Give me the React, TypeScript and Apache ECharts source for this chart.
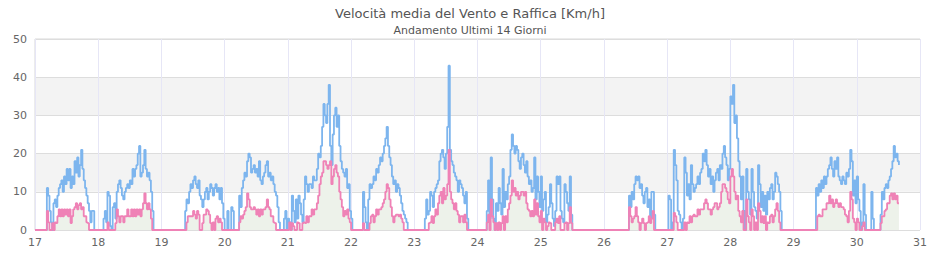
import React, { useEffect, useRef } from "react";
import * as echarts from "echarts";

const titleText = "Velocità media del Vento e Raffica [Km/h]";
const subtitleText = "Andamento Ultimi 14 Giorni";
const days = [17, 18, 19, 20, 21, 22, 23, 24, 25, 26, 27, 28, 29, 30];
const slotsPerDay = 48;

// Raffica (gusts), 30-minute samples per day
const g17 = [0,0,0,0,0,0,0,0,0,11,9,5,2,0,7,8,6,9,11,12,13,10,14,12,16,13,16,11,14,12,18,15,19,14,17,21,16,13,11,9,7,5,2,5,5,0,0,0];
const g18 = [0,0,0,0,3,5,2,10,9,1,0,6,7,3,10,12,13,11,9,8,10,11,12,11,13,12,16,14,16,17,20,22,14,15,17,21,16,14,15,13,10,5,0,0,0,0,0,0];
const g19 = [0,0,0,0,0,0,0,0,0,0,0,0,0,0,0,0,0,0,5,8,7,10,12,11,13,14,12,11,13,9,8,6,8,10,11,8,10,12,11,9,11,12,10,11,8,11,7,3];
const g20 = [0,0,5,0,0,6,5,0,0,0,0,9,6,11,13,15,14,18,20,19,15,16,17,15,16,14,18,13,12,14,15,17,18,14,15,13,14,12,10,9,6,2,0,0,0,3,5,0];
const g21 = [3,2,0,9,5,2,8,3,9,7,4,2,8,14,12,10,12,12,11,14,13,13,16,20,19,22,27,33,30,28,33,38,22,17,25,30,32,27,30,22,18,16,15,14,16,11,12,5];
const g22 = [3,0,0,0,0,0,0,0,0,10,6,2,0,8,12,11,12,14,13,16,15,17,19,18,20,22,24,27,22,19,17,14,12,13,10,12,11,9,7,5,4,3,2,0,0,0,0,0];
const g23 = [0,0,0,0,0,0,0,0,3,8,4,5,10,9,6,10,11,12,13,18,20,21,19,16,20,27,43,21,18,17,15,14,13,10,13,12,11,9,7,10,3,0,0,0,0,0,0,0];
const g24 = [0,0,0,0,0,0,0,5,13,3,19,8,3,0,7,5,11,7,4,16,6,10,8,12,14,21,25,22,20,22,21,18,16,19,20,17,15,18,14,12,13,10,11,19,8,14,10,6];
const g25 = [14,5,8,10,2,4,6,12,7,3,1,5,14,12,14,5,3,2,12,10,7,5,14,4,0,0,0,0,0,0,0,0,0,0,0,0,0,0,0,0,0,0,0,0,0,0,0,0];
const g26 = [0,0,0,0,0,0,0,0,0,0,0,0,0,0,0,0,0,0,0,9,6,10,8,12,14,13,14,11,12,9,7,10,11,6,8,3,10,10,4,0,0,0,0,0,0,0,0,0];
const g27 = [0,9,8,0,2,21,17,13,5,4,2,0,3,19,15,9,12,8,17,12,10,11,12,14,12,15,16,20,18,21,17,14,16,12,14,10,13,15,16,13,17,16,20,22,19,17,13,16];
const g28 = [35,33,38,28,30,24,18,14,8,14,5,0,16,10,8,4,16,10,6,5,3,17,12,6,10,5,9,4,10,8,11,12,8,10,15,14,12,10,5,0,0,0,0,0,0,0,0,0];
const g29 = [0,0,0,0,0,0,0,0,0,0,0,0,0,0,0,0,0,11,9,12,10,13,11,14,12,14,16,17,19,16,14,18,16,19,14,13,12,14,13,12,15,14,16,21,18,9,13,7];
const g30 = [14,8,5,0,2,12,4,0,0,0,0,10,3,0,0,0,0,0,4,10,8,11,12,11,13,14,16,18,22,19,20,18,17];

// Velocità media (mean wind), 30-minute samples per day
const m17 = [0,0,0,0,0,0,0,0,0,5,2,0,0,1.8,0,2,1.8,3.6,5.4,3.6,5.4,3.6,5.4,4,5.4,3.6,5.4,1.8,3.6,5.4,6,7,5.4,6.5,7,5.4,6,3.6,3.6,2,1.8,0,0,0,0,0,0,0];
const m18 = [0,0,0,0,0,0,0,2,0,0,0,0,0,1.8,5.4,3.6,2,3.6,3.6,2,3.6,3.6,5.4,3.6,3.6,5.4,3.6,5.4,3.6,5.4,4,5.4,3.6,5.4,7,9.6,7,5.4,7,5.4,3,0,0,0,0,0,0,0];
const m19 = [0,0,0,0,0,0,0,0,0,0,0,0,0,0,0,0,0,0,0,2,3.6,3.6,3.6,3.6,5,4,3,5,4,0,0,1.8,4,4,5.4,5,4,1.8,0,2,0,3,3.6,2,3,2,0,0];
const m20 = [0,0,0,0,0,0,0,0,0,0,0,2,3.6,3,4,5,6,9.6,8,6,5.4,5.4,6,5.4,4,5.4,3.6,5.4,4,5.4,5.4,6,8,6,5.4,3.6,3.6,2,1.8,0,0,0,0,0,0,0,0,0];
const m21 = [0,2,0,1.8,1,0,0,2,1.8,0,0,1.8,2,1.8,3.6,2,3.6,3.6,5.4,4,5.4,5.4,7,9,12,14,15,18,18,17,16,17,18,12,14,16,17,15,14,10,8,6,3.6,5,4,5.4,3,2];
const m22 = [0,0,0,0,0,0,0,0,0,1.8,0,0,0,0,1.8,3.6,4,2,3.6,5.4,4,5.4,5.4,6,7,8,10,12,11,8,6,3.6,2,3.6,4,4,3.6,4,3,2,0,0,0,0,0,0,0,0];
const m23 = [0,0,0,0,0,0,0,0,0,0,0,1.8,2,3.6,1.8,3.6,5.4,4,7,9,10,7,11,8,9,12,21,10,8,7,5.4,7,5,4,2,3.6,3.6,2,4,2,0,0,0,0,0,0,0,0];
const m24 = [0,0,0,0,0,0,0,2,4,0,8,3.6,2,0,1.8,0,2,0,1.8,3.6,0,3.6,2,5.4,7,9,13,10,11,9,10,8,9,10,10,9,10,7,5.4,5,3.6,5,3.6,8,4,7,3.6,2];
const m25 = [5,0,3,2,0,1,2,1.8,0,0,0,2,3,1.8,3.6,0,0,0,1.8,2,0,1.8,6,1.8,0,0,0,0,0,0,0,0,0,0,0,0,0,0,0,0,0,0,0,0,0,0,0,0];
const m26 = [0,0,0,0,0,0,0,0,0,0,0,0,0,0,0,0,0,0,0,6,3.6,2,3,3.6,6,3.6,2,0,1.8,3,1.8,0,1.8,2,3.6,1.8,3,5,0,0,0,0,0,0,0,0,0,0];
const m27 = [0,0,0,0,0,4.5,3.6,2,0,0,0,0,0,2,0,2,1.8,3.6,2,3.6,4,3.6,3.6,5.4,4,5.4,5.4,5.4,7,8,7,5.4,5.4,4,5.4,6,7,7,5.4,6,7,10,12,12,11,10,8,7];
const m28 = [14,16,14,10,8,9,5,3.6,2,5,0,0,8,3.6,2,0,5.4,3.6,0,2,0,7,5,2,3.6,1.8,3.6,0,2,1.8,3.6,4,2,3.6,5.4,7,5,2,0,0,0,0,0,0,0,0,0,0];
const m29 = [0,0,0,0,0,0,0,0,0,0,0,0,0,0,0,0,0,0,3.6,4,3.6,3.6,5.4,5.4,5.4,7,7,9,7,8,6,7,8,7,6,7,6,6,5.4,4,3.6,2,5,10,8,3,2,0];
const m30 = [3,2,0,0,1,2,0,0,0,0,0,0,0,0,0,0,0,0,1.8,3.6,3.6,5,5.4,7,7,9,9.6,8,9.6,8,9,7,7];

const gustDays = [g17, g18, g19, g20, g21, g22, g23, g24, g25, g26, g27, g28, g29, g30];
const meanDays = [m17, m18, m19, m20, m21, m22, m23, m24, m25, m26, m27, m28, m29, m30];

function toPairs(arrs: number[][]): [number, number][] {
  const out: [number, number][] = [];
  arrs.forEach((a, k) => {
    a.forEach((v, i) => out.push([days[k] + i / slotsPerDay, v]));
  });
  return out;
}

export default function App() {
  const ref = useRef<HTMLDivElement>(null);
  useEffect(() => {
    if (!ref.current) return;
    const chart = echarts.init(ref.current, undefined, { renderer: "svg" });
    const gust = toPairs(gustDays);
    const mean = toPairs(meanDays);
    const font = "DejaVu Sans";
    chart.setOption({
      animation: false,
      backgroundColor: "#ffffff",
      title: {
        text: titleText,
        subtext: subtitleText,
        left: "center",
        top: 2,
        itemGap: 5,
        textStyle: { fontFamily: font, fontSize: 13, fontWeight: "normal", color: "#555555" },
        subtextStyle: { fontFamily: font, fontSize: 11, color: "#555555" },
      },
      grid: {
        left: 35,
        right: 20,
        top: 39,
        bottom: 30,
        show: true,
        borderColor: "#d8d8d8",
        borderWidth: 1,
        backgroundColor: "transparent",
      },
      xAxis: {
        type: "value",
        min: 17,
        max: 31,
        interval: 1,
        axisLine: { show: false },
        axisTick: { show: false },
        axisLabel: { fontFamily: font, fontSize: 11, color: "#666666", margin: 7 },
        splitLine: { show: true, lineStyle: { color: "#e6e6f6", width: 1 } },
      },
      yAxis: {
        type: "value",
        min: 0,
        max: 50,
        interval: 10,
        axisLine: { show: false },
        axisTick: { show: false },
        axisLabel: { fontFamily: font, fontSize: 11, color: "#666666", margin: 8 },
        splitLine: { show: true, lineStyle: { color: "#dddddd", width: 1 } },
        splitArea: { show: true, areaStyle: { color: ["#ffffff", "#f3f3f3"] } },
      },
      series: [
        {
          name: "area",
          type: "line",
          step: "end",
          data: mean,
          symbol: "none",
          silent: true,
          z: 1,
          lineStyle: { width: 0, opacity: 0 },
          areaStyle: { color: "#edf2ea", opacity: 1 },
        },
        {
          name: "Raffica",
          type: "line",
          step: "end",
          data: gust,
          symbol: "none",
          z: 2,
          lineStyle: { color: "#7db5ee", width: 1.8 },
        },
        {
          name: "Velocità media",
          type: "line",
          step: "end",
          data: mean,
          symbol: "none",
          z: 3,
          lineStyle: { color: "#ef82b6", width: 1.8 },
        },
      ],
    });
    return () => chart.dispose();
  }, []);
  return (
    <div
      ref={ref}
      style={{ position: "fixed", left: 0, top: 0, width: 940, height: 260 }}
    />
  );
}
